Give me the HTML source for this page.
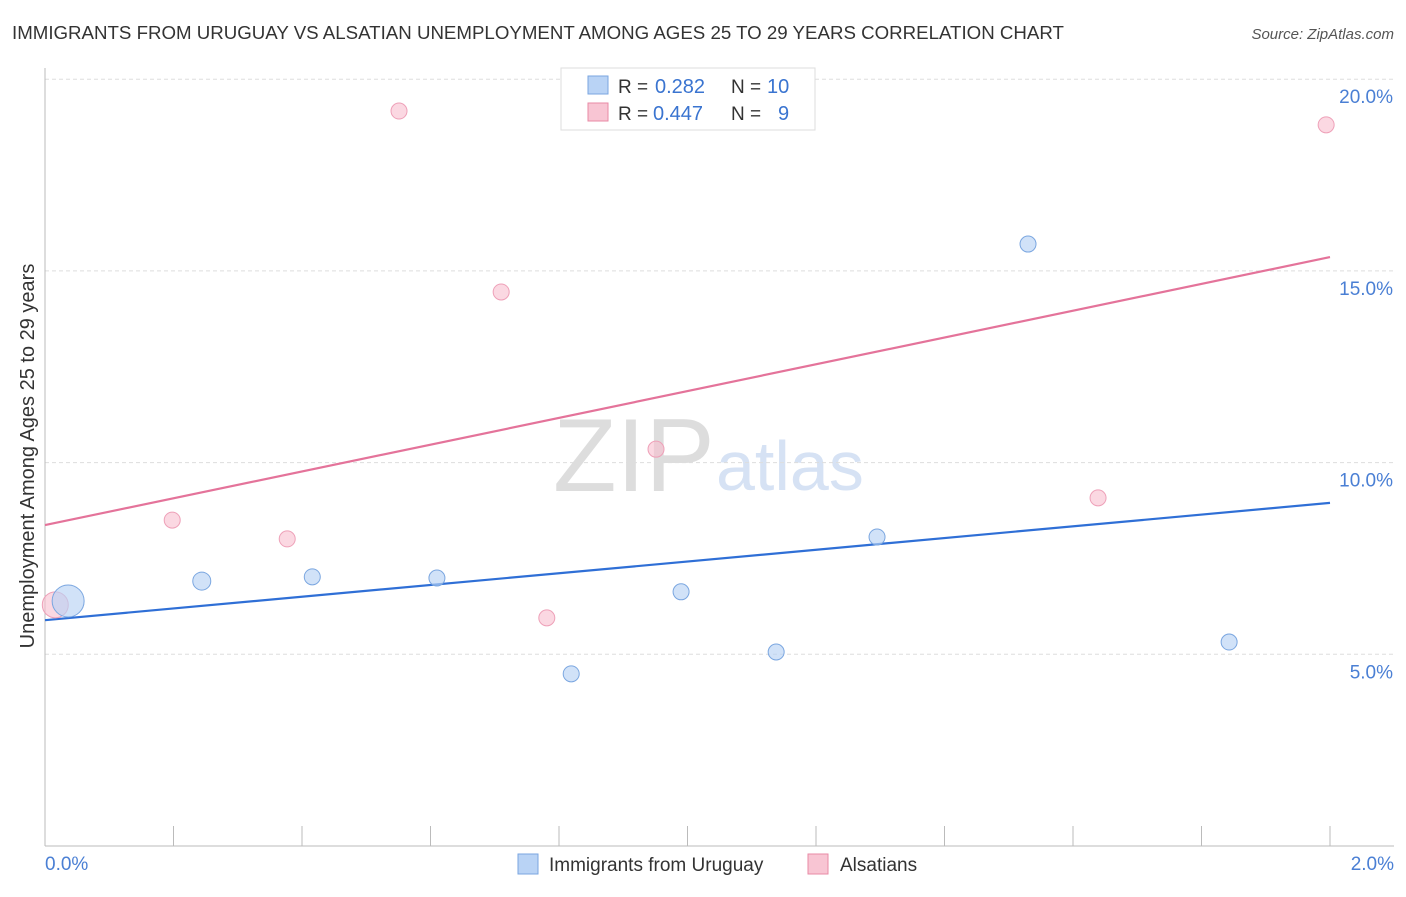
<!DOCTYPE html>
<html><head><meta charset="utf-8"><style>
body{margin:0;background:#fff;font-family:"Liberation Sans",sans-serif;}
svg text{font-family:"Liberation Sans",sans-serif;}
</style></head><body>
<svg id="chart" width="1406" height="892">
<text x="12" y="39" font-size="18.7" fill="#333">IMMIGRANTS FROM URUGUAY VS ALSATIAN UNEMPLOYMENT AMONG AGES 25 TO 29 YEARS CORRELATION CHART</text>
<text x="1394" y="39" font-size="15" fill="#555" font-style="italic" text-anchor="end">Source: ZipAtlas.com</text>
<text x="553" y="491" font-size="104" fill="#ddd" font-family="Liberation Serif">ZIP</text>
<text x="716" y="490" font-size="70" fill="#d6e2f4">atlas</text>
<g id="grid"></g>
<line x1="45" y1="68" x2="45" y2="846" stroke="#bbb"/>
<line x1="45" y1="846" x2="1394" y2="846" stroke="#bbb"/>
<g id="ticks"></g>
<text x="34" y="456" font-size="20" fill="#333" text-anchor="middle" transform="rotate(-90 34 456)">Unemployment Among Ages 25 to 29 years</text>
<text x="45" y="870" font-size="19" fill="#4a7fd4">0.0%</text>
<text x="1394" y="870" font-size="19" fill="#4a7fd4" text-anchor="end">2.0%</text>
<g id="lines"></g>
<g id="points"></g>
<g>
<rect x="561" y="68" width="254" height="62" fill="#fff" stroke="#ddd"/>
<rect x="588" y="76" width="20" height="18" fill="#b9d3f5" stroke="#7aa6e0"/>
<text x="618" y="93" font-size="19" fill="#333">R =</text>
<text x="655" y="93" font-size="20" fill="#3a74d0">0.282</text>
<text x="731" y="93" font-size="19" fill="#333">N =</text>
<text x="767" y="93" font-size="20" fill="#3a74d0">10</text>
<rect x="588" y="103" width="20" height="18" fill="#f8c5d3" stroke="#e88aa6"/>
<text x="618" y="120" font-size="19" fill="#333">R =</text>
<text x="653" y="120" font-size="20" fill="#3a74d0">0.447</text>
<text x="731" y="120" font-size="19" fill="#333">N =</text>
<text x="778" y="120" font-size="20" fill="#3a74d0">9</text>
</g>
<g>
<rect x="518" y="854" width="20" height="20" fill="#b9d3f5" stroke="#7aa6e0"/>
<text x="549" y="871" font-size="19" fill="#333">Immigrants from Uruguay</text>
<rect x="808" y="854" width="20" height="20" fill="#f8c5d3" stroke="#e88aa6"/>
<text x="840" y="871" font-size="19" fill="#333">Alsatians</text>
</g>
</svg>
<script>
const yTicks=[5,10,15,20];
const yTickLabels=["5.0%","10.0%","15.0%","20.0%"];
const blueX=[0.036,0.244,0.416,0.610,0.819,0.990,1.138,1.295,1.530,1.843];
const blueY=[6.39,6.91,7.02,6.99,4.49,6.63,5.06,8.06,15.70,5.32];
const blueR=[16,9,8,8,8,8,8,8,8,8];
const pinkX=[0.016,0.198,0.377,0.551,0.710,0.781,0.951,1.639,1.994];
const pinkY=[6.29,8.50,8.01,19.17,14.45,5.95,10.35,9.08,18.81];
const pinkR=[13,8,8,8,8,8,8,8,8];
const blueTrend=[5.89,8.95];
const pinkTrend=[8.37,15.36];
const NS="http://www.w3.org/2000/svg";
const xs=v=>45+v/2*1285;
const ys=v=>846-v/5*191.7;
function mk(tag,attrs,parent){const e=document.createElementNS(NS,tag);for(const k in attrs)e.setAttribute(k,attrs[k]);document.getElementById(parent).appendChild(e);return e;}
yTicks.forEach((t,i)=>{
 const l=mk('line',{x1:45,x2:1394,y1:ys(t),y2:ys(t),stroke:'#ddd','stroke-dasharray':'4 3'},'grid');
 
 
 const tx=mk('text',{x:1393,y:ys(t)+24,'font-size':19,fill:'#4a7fd4','text-anchor':'end'},'grid');
 tx.textContent=yTickLabels[i];
 
 
});
for(let i=0;i<=10;i++){
 const l=mk('line',{x1:xs(i*0.2),x2:xs(i*0.2),y1:826,y2:846,stroke:'#bbb'},'ticks');
 
 
}
const bl=mk('line',{x1:xs(0),y1:ys(blueTrend[0]),x2:xs(2),y2:ys(blueTrend[1]),stroke:'#2f6fd6','stroke-width':2.2},'lines');


const pl=mk('line',{x1:xs(0),y1:ys(pinkTrend[0]),x2:xs(2),y2:ys(pinkTrend[1]),stroke:'#e4739a','stroke-width':2.2},'lines');


pinkX.forEach((x,i)=>{
 const c=mk('circle',{cx:xs(x),cy:ys(pinkY[i]),r:pinkR[i],fill:'rgba(248,190,206,0.6)',stroke:'#eea0b8'},'points');
 
 
});
blueX.forEach((x,i)=>{
 const c=mk('circle',{cx:xs(x),cy:ys(blueY[i]),r:blueR[i],fill:'rgba(185,211,245,0.65)',stroke:'#7aa6e0'},'points');
 
 
});
</script>
</body></html>
